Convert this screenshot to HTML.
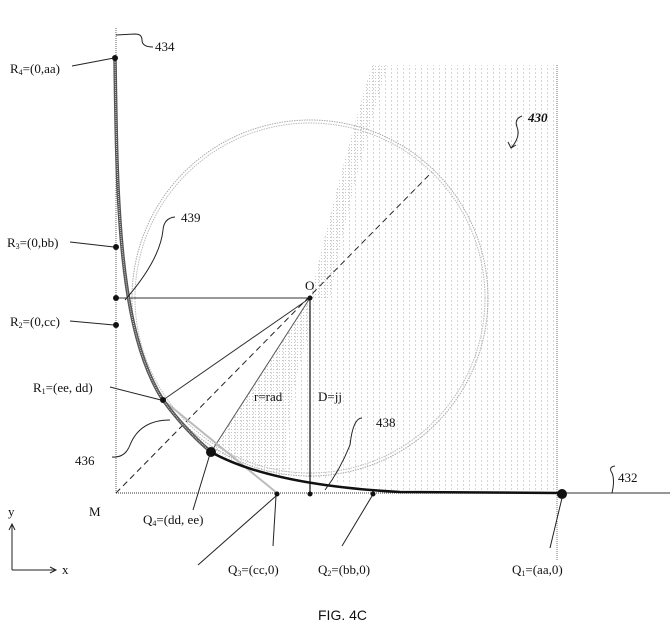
<!DOCTYPE html>
<html><head><meta charset="utf-8"><style>
body{margin:0;background:#fff}
svg text{font-family:"Liberation Serif",serif;font-size:13px;fill:#111}
</style></head><body>
<svg width="670" height="634" viewBox="0 0 670 634" xmlns="http://www.w3.org/2000/svg">
<defs>
<pattern id="vp" width="6" height="4" patternUnits="userSpaceOnUse">
<rect x="1" y="0" width="1" height="2" fill="#d6d6d6"/>
</pattern>
<pattern id="dp" width="3" height="3" patternUnits="userSpaceOnUse">
<rect x="0" y="0" width="1" height="1" fill="#c8c8c8"/>
</pattern>
</defs>
<path d="M372,65 Q340,170 310,298 L211,452 Q300,480 400,492 L557,492 L557,65 Z" fill="url(#vp)"/>
<path d="M372,65 Q340,170 310,298 L330,298 Q352,180 388,65 Z" fill="url(#dp)"/>
<path d="M310,298 L211,452 Q250,468 290,478 Q280,420 310,330 Z" fill="url(#dp)"/>
<circle cx="310" cy="298" r="178" fill="none" stroke="#aaa" stroke-width="1" stroke-dasharray="1.5 1"/>
<circle cx="310" cy="298" r="175" fill="none" stroke="#bbb" stroke-width="1" stroke-dasharray="1.5 1"/>
<line x1="116" y1="28" x2="116" y2="493" stroke="#666" stroke-dasharray="1 1"/>
<line x1="116" y1="493" x2="560" y2="493" stroke="#777" stroke-width="1.5" stroke-dasharray="1 1"/>
<line x1="560" y1="493" x2="670" y2="493" stroke="#777" stroke-width="1.5"/>
<line x1="557" y1="65" x2="557" y2="560" stroke="#777" stroke-dasharray="1 1"/>
<line x1="116" y1="298" x2="310" y2="298" stroke="#333"/>
<line x1="310" y1="298" x2="310" y2="493" stroke="#222" stroke-width="1.3"/>
<line x1="310" y1="298" x2="163" y2="400" stroke="#333"/>
<line x1="310" y1="298" x2="211" y2="452" stroke="#555"/>
<line x1="116" y1="493" x2="432" y2="172" stroke="#222" stroke-dasharray="6 4"/>
<line x1="163" y1="400" x2="277" y2="493" stroke="#bbb" stroke-width="2"/>
<path d="M115,58 C117,200 118,330 163,400 Q185,430 211,452" fill="none" stroke="#555" stroke-width="3.5"/>
<path d="M115,58 C117,200 118,330 163,400 Q185,430 211,452" fill="none" stroke="#ccc" stroke-width="1" stroke-dasharray="1 1"/>
<path d="M211,452 Q270,485 400,492 L560,493" fill="none" stroke="#111" stroke-width="2.5"/>
<circle cx="115" cy="58" r="3" fill="#111"/>
<circle cx="116" cy="247" r="3" fill="#111"/>
<circle cx="116" cy="298" r="3" fill="#111"/>
<circle cx="116" cy="325" r="3" fill="#111"/>
<circle cx="163" cy="400" r="3" fill="#111"/>
<circle cx="211" cy="452" r="5" fill="#111"/>
<circle cx="277" cy="494" r="2.5" fill="#111"/>
<circle cx="310" cy="494" r="2.5" fill="#111"/>
<circle cx="373" cy="494" r="2.5" fill="#111"/>
<circle cx="562" cy="494" r="5" fill="#111"/>
<circle cx="310" cy="298" r="2.5" fill="#111"/>
<g fill="none" stroke="#222" stroke-width="1">
<path d="M116,35 L135,34 Q142,34 142,40 Q142,47 153,47"/>
<line x1="72" y1="66" x2="114" y2="58"/>
<line x1="70" y1="242" x2="114" y2="247"/>
<line x1="70" y1="321" x2="114" y2="325"/>
<line x1="110" y1="387" x2="161" y2="400"/>
<path d="M125,300 Q160,260 163,230 Q164,218 175,217"/>
<path d="M112,457 Q125,458 130,445 Q140,420 170,420"/>
<path d="M193,510 L210,454"/>
<path d="M198,565 L276,496"/>
<path d="M273,546 L276,496"/>
<path d="M342,546 L372,496"/>
<path d="M550,548 L562,498"/>
<path d="M325,490 Q340,470 350,445 Q353,418 362,418"/>
<path d="M612,493 Q615,480 612,473 Q608,467 615,466"/>
<path d="M522,116 Q514,119 517,127 Q521,137 511,148"/>
<path d="M508,142 L511,148 L516,145"/>
</g>
<path d="M12,570 L12,524 M9,530 L12,524 L15,530 M12,570 L56,570 M50,567 L56,570 L50,573" fill="none" stroke="#222"/>
<text x="155" y="51">434</text>
<text x="10" y="73">R<tspan font-size="8" dy="2">4</tspan><tspan dy="-2">=(0,aa)</tspan></text>
<text x="7" y="247">R<tspan font-size="8" dy="2">3</tspan><tspan dy="-2">=(0,bb)</tspan></text>
<text x="10" y="326">R<tspan font-size="8" dy="2">2</tspan><tspan dy="-2">=(0,cc)</tspan></text>
<text x="33" y="392">R<tspan font-size="8" dy="2">1</tspan><tspan dy="-2">=(ee, dd)</tspan></text>
<text x="181" y="222">439</text>
<text x="305" y="290">O</text>
<text x="254" y="401">r=rad</text>
<text x="318" y="401">D=jj</text>
<text x="376" y="427">438</text>
<text x="75" y="465">436</text>
<text x="618" y="482">432</text>
<text x="89" y="516">M</text>
<text x="8" y="516">y</text>
<text x="62" y="574">x</text>
<text x="143" y="524">Q<tspan font-size="8" dy="2">4</tspan><tspan dy="-2">=(dd, ee)</tspan></text>
<text x="228" y="574">Q<tspan font-size="8" dy="2">3</tspan><tspan dy="-2">=(cc,0)</tspan></text>
<text x="318" y="574">Q<tspan font-size="8" dy="2">2</tspan><tspan dy="-2">=(bb,0)</tspan></text>
<text x="512" y="574">Q<tspan font-size="8" dy="2">1</tspan><tspan dy="-2">=(aa,0)</tspan></text>
<text x="528" y="122" font-weight="bold" font-style="italic">430</text>
<text x="318" y="620" style="font-family:'Liberation Sans',sans-serif;font-size:14px">FIG. 4C</text>
</svg>
</body></html>
